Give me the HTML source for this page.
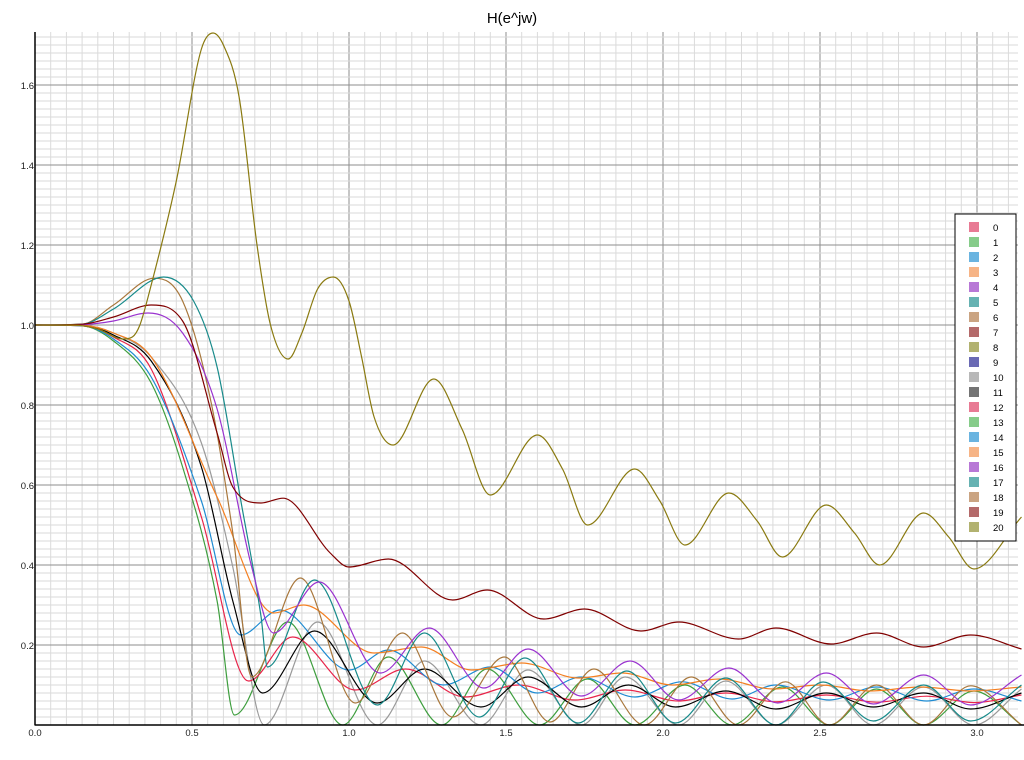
<!DOCTYPE html>
<html><head><meta charset="utf-8"><style>
body{margin:0;background:#fff;}
svg{display:block;font-family:"Liberation Sans",sans-serif;}
</style></head><body>
<svg id="chart" width="1024" height="760" viewBox="0 0 1024 760">
<rect x="0" y="0" width="1024" height="760" fill="#fff"/>
<text x="512" y="23" text-anchor="middle" font-size="15" fill="#000">H(e^jw)</text>
<g id="grid"></g>
<g id="series"></g>
<g id="axes"></g>
<g id="legend"></g>
</svg>
<script>
const xTicks=[0,0.5,1.0,1.5,2.0,2.5,3.0];
const xTickLabels=["0.0","0.5","1.0","1.5","2.0","2.5","3.0"];
const yTicks=[0.2,0.4,0.6,0.8,1.0,1.2,1.4,1.6];
const yTickLabels=["0.2","0.4","0.6","0.8","1.0","1.2","1.4","1.6"];
const legendLabels=["0","1","2","3","4","5","6","7","8","9","10","11","12","13","14","15","16","17","18","19","20"];
const legendColors=["#e87a94","#86cc8a","#6ab4e0","#f6b486","#b878d6","#66b2b2","#caa482","#b46a6a","#b2b270","#6a6ab4","#b8b8b8","#747474","#e87a94","#86cc8a","#6ab4e0","#f6b486","#b878d6","#66b2b2","#caa482","#b46a6a","#b2b270"];

// series samples (x in rad/sample, y magnitude)
const oliveX=[0,0.12,0.2,0.28,0.31,0.334,0.37,0.45,0.53,0.567,0.6,0.65,0.707,0.75,0.806,0.85,0.9,0.95,1.0,1.04,1.08,1.14,1.27,1.36,1.45,1.6,1.68,1.76,1.91,1.99,2.07,2.21,2.3,2.38,2.52,2.61,2.69,2.83,2.91,2.99,3.1416];
const oliveY=[1,1,0.99,0.965,0.97,1.0,1.1,1.36,1.69,1.73,1.7,1.57,1.2,1.0,0.915,0.98,1.09,1.12,1.06,0.92,0.77,0.70,0.865,0.74,0.575,0.725,0.64,0.50,0.64,0.56,0.45,0.58,0.51,0.42,0.55,0.48,0.40,0.53,0.47,0.39,0.52];
const maroonX=[0,0.15,0.25,0.37,0.47,0.58,0.63,0.72,0.79,0.94,1.0,1.125,1.33,1.44,1.62,1.75,1.93,2.05,2.24,2.36,2.535,2.68,2.83,2.98,3.1416];
const maroonY=[1,1.002,1.02,1.05,1.01,0.73,0.595,0.555,0.567,0.43,0.395,0.415,0.3125,0.3375,0.265,0.29,0.235,0.2575,0.215,0.2425,0.2025,0.23,0.195,0.225,0.19];
const tealX=[0,0.15,0.25,0.41,0.505,0.58,0.655,0.72,0.74,0.89,1.09,1.24,1.415,1.56,1.73,1.885,2.04,2.2,2.36,2.51,2.67,2.83,2.98,3.1416];
const tealY=[1,1.002,1.04,1.12,1.06,0.895,0.5625,0.27,0.145,0.3625,0.05,0.23,0.02,0.1675,0.005,0.135,0.005,0.1175,0.0,0.1075,0.01,0.1,0.01,0.1];
const tanX=[0,0.15,0.25,0.38,0.47,0.56,0.63,0.69,0.845,1.02,1.17,1.33,1.495,1.64,1.78,1.94,2.09,2.24,2.39,2.53,2.68,2.83,2.98,3.1416];
const tanY=[1,1.002,1.05,1.117,1.06,0.81,0.48,0.12,0.3675,0.055,0.23,0.02,0.17,0.0075,0.14,0.0,0.12,0.0,0.108,0.0,0.1,0.0,0.098,0.0];
const purpleX=[0,0.15,0.25,0.36,0.47,0.58,0.69,0.76,0.905,1.10,1.255,1.43,1.57,1.74,1.895,2.05,2.21,2.365,2.52,2.67,2.83,2.98,3.1416];
const purpleY=[1,1.001,1.01,1.03,0.98,0.79,0.395,0.23,0.3575,0.13,0.2425,0.0925,0.19,0.0725,0.16,0.0625,0.1425,0.055,0.13,0.0525,0.125,0.05,0.125];
const orangeX=[0,0.15,0.25,0.37,0.58,0.76,0.855,1.08,1.23,1.39,1.55,1.73,1.87,2.03,2.18,2.35,2.5,2.66,2.82,2.98,3.1416];
const orangeY=[1,0.999,0.98,0.92,0.57,0.28,0.3,0.18,0.195,0.1375,0.155,0.1175,0.13,0.1,0.115,0.09,0.1,0.085,0.095,0.085,0.095];
const grayX=[0,0.15,0.25,0.37,0.53,0.63,0.73,0.9,1.09,1.24,1.42,1.57,1.74,1.88,2.05,2.2,2.36,2.52,2.67,2.83,2.99,3.1416];
const grayY=[1,0.999,0.98,0.92,0.705,0.395,0.0,0.2575,0.0,0.16,0.0,0.1375,0.0,0.12,0.0,0.11,0.0,0.1,0.0,0.095,0.0,0.09];
const blackX=[0,0.15,0.25,0.37,0.53,0.63,0.725,0.89,1.09,1.24,1.42,1.57,1.74,1.89,2.04,2.2,2.36,2.52,2.67,2.83,2.98,3.1416];
const blackY=[1,0.999,0.975,0.91,0.645,0.31,0.08,0.235,0.055,0.14,0.045,0.12,0.045,0.1,0.045,0.085,0.04,0.08,0.045,0.08,0.04,0.08];
const redX=[0,0.15,0.25,0.37,0.53,0.68,0.82,1.02,1.18,1.37,1.54,1.72,1.88,2.05,2.2,2.36,2.52,2.68,2.84,2.99,3.1416];
const redY=[1,0.998,0.97,0.89,0.52,0.11,0.22,0.0875,0.14,0.07,0.1,0.0625,0.0875,0.06,0.08,0.058,0.075,0.057,0.072,0.056,0.075];
const blueX=[0,0.15,0.25,0.37,0.53,0.655,0.78,1.0,1.125,1.30,1.45,1.60,1.74,1.91,2.06,2.22,2.36,2.53,2.68,2.84,2.99,3.1416];
const blueY=[1,0.998,0.965,0.87,0.56,0.225,0.2875,0.1375,0.1875,0.1,0.145,0.08,0.12,0.07,0.108,0.065,0.1,0.0625,0.095,0.06,0.09,0.06];
const greenX=[0,0.15,0.25,0.37,0.47,0.58,0.635,0.805,0.98,1.125,1.295,1.44,1.607,1.76,1.91,2.07,2.22,2.38,2.53,2.68,2.83,2.99,3.1416];
const greenY=[1,0.998,0.96,0.855,0.645,0.31,0.025,0.2575,0.0,0.17,0.0,0.14,0.0,0.115,0.0,0.1,0.0,0.095,0.0,0.09,0.0,0.085,0.0];

const L=35,R=1018,T=32,B=725;
const xs=v=>L+v*314;
const ys=v=>B-v*400;
const NS="http://www.w3.org/2000/svg";
function mk(tag,attrs,parent){const e=document.createElementNS(NS,tag);for(const k in attrs)e.setAttribute(k,attrs[k]);parent.appendChild(e);return e;}

const grid=document.getElementById('grid');
for(let i=1;i*0.05<=3.15;i++){const v=i*0.05;const x=xs(v);if(x>R)break;const major=i%10===0;
 const ln=mk('line',{x1:x,x2:x,y1:T,y2:B,stroke:major?'#8e8e8e':'#dadada','stroke-width':1},grid);
 
 }
for(let i=1;i*0.02<=1.74;i++){const v=i*0.02;const y=ys(v);if(y<T)break;const major=i%10===0;
 const ln=mk('line',{x1:L,x2:R,y1:y,y2:y,stroke:major?'#8e8e8e':'#dadada','stroke-width':1},grid);
 
 }

function monoPath(X,Y){
 const px=X.map(xs),py=Y.map(ys),n=px.length;const d=[],m=new Array(n);
 for(let i=0;i<n-1;i++)d.push((py[i+1]-py[i])/(px[i+1]-px[i]));
 m[0]=d[0];m[n-1]=d[n-2];
 for(let i=1;i<n-1;i++){m[i]=(d[i-1]*d[i]<=0)?0:(d[i-1]+d[i])/2;}
 for(let i=0;i<n-1;i++){if(d[i]===0){m[i]=0;m[i+1]=0;continue;}const a=m[i]/d[i],b=m[i+1]/d[i],s=a*a+b*b;if(s>9){const t=3/Math.sqrt(s);m[i]=t*a*d[i];m[i+1]=t*b*d[i];}}
 let p='M'+px[0].toFixed(1)+','+py[0].toFixed(1);
 for(let i=0;i<n-1;i++){const h=(px[i+1]-px[i])/3;p+=' C'+(px[i]+h).toFixed(1)+','+(py[i]+m[i]*h).toFixed(1)+' '+(px[i+1]-h).toFixed(1)+','+(py[i+1]-m[i+1]*h).toFixed(1)+' '+px[i+1].toFixed(1)+','+py[i+1].toFixed(1);}
 return p;}

const sg=document.getElementById('series');
const defs=[[greenX,greenY,'#3e9e3e','series-green'],[grayX,grayY,'#9a9a9a','series-gray'],[redX,redY,'#e8254a','series-red'],[blueX,blueY,'#1e8bd2','series-blue'],[blackX,blackY,'#000000','series-black'],[orangeX,orangeY,'#f47f20','series-orange'],[tanX,tanY,'#a8773c','series-tan'],[tealX,tealY,'#178a8a','series-teal'],[purpleX,purpleY,'#9a32cf','series-purple'],[maroonX,maroonY,'#800000','series-maroon'],[oliveX,oliveY,'#8a7a10','series-olive']];
defs.forEach(s=>{const p=mk('path',{d:monoPath(s[0],s[1]),fill:'none',stroke:s[2],'stroke-width':1.2},sg);
 
 });

const ax=document.getElementById('axes');
let a1=mk('line',{x1:L,x2:L,y1:T,y2:B+0.5,stroke:'#000','stroke-width':1.5},ax);


let a2=mk('line',{x1:L,x2:R+6,y1:B,y2:B,stroke:'#000','stroke-width':1.5},ax);


xTicks.forEach((v,i)=>{const t=mk('text',{x:xs(v),y:B+11,'text-anchor':'middle','font-size':9.5,fill:'#222'},ax);t.textContent=xTickLabels[i];
 
 });
yTicks.forEach((v,i)=>{const t=mk('text',{x:L-1,y:ys(v)+4,'text-anchor':'end','font-size':9.5,fill:'#222'},ax);t.textContent=yTickLabels[i];
 
 });

const lg=document.getElementById('legend');
let box=mk('rect',{x:955,y:214,width:61,height:327,fill:'#fff',stroke:'#000','stroke-width':1},lg);


legendLabels.forEach((lab,i)=>{const y=222+i*15;
 const g=mk('g',{},lg);
 
 
 const r=mk('rect',{x:969,y:y,width:10,height:10,fill:legendColors[i]},g);
 
 
 const t=mk('text',{x:993,y:y+9,'font-size':9.5,fill:'#000'},g);t.textContent=lab;
 
 });
</script>
</body></html>
